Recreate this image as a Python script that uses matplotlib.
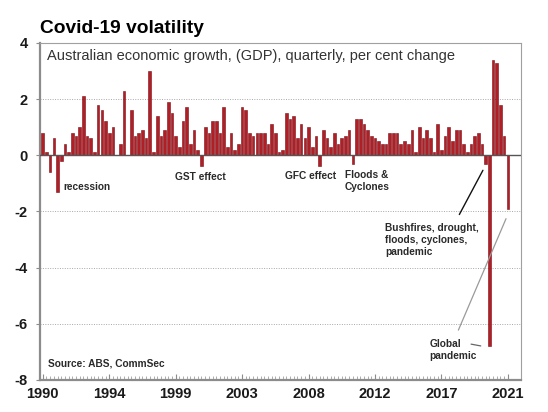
import matplotlib
matplotlib.use("Agg")
import matplotlib.pyplot as plt
import numpy as np

plt.rcParams["font.family"] = ["Liberation Sans", "DejaVu Sans"]
plt.rcParams["axes.unicode_minus"] = False

# Quarterly GDP growth, per cent, 1990 Q1 .. 2021 Q3
growth = [
    0.8, 0.1, -0.6, 0.6, -1.3, -0.2, 0.4, 0.1, 0.8, 0.7,
    1.0, 2.1, 0.7, 0.6, 0.1, 1.8, 1.6, 1.2, 0.8, 1.0,
    0.0, 0.4, 2.3, 0.0, 1.6, 0.7, 0.8, 0.9, 0.6, 3.0,
    0.1, 1.4, 0.7, 0.9, 1.9, 1.5, 0.7, 0.3, 1.2, 1.7,
    0.4, 0.9, 0.2, -0.4, 1.0, 0.8, 1.2, 1.2, 0.8, 1.7,
    0.3, 0.8, 0.2, 0.4, 1.7, 1.6, 0.8, 0.7, 0.8, 0.8,
    0.8, 0.4, 1.1, 0.8, 0.1, 0.2, 1.5, 1.3, 1.4, 0.6,
    1.1, 0.6, 1.0, 0.3, 0.7, -0.4, 0.9, 0.6, 0.3, 0.8,
    0.4, 0.6, 0.7, 0.9, -0.3, 1.3, 1.3, 1.1, 0.9, 0.7,
    0.6, 0.5, 0.4, 0.4, 0.8, 0.8, 0.8, 0.4, 0.5, 0.4,
    0.9, 0.1, 1.0, 0.6, 0.9, 0.6, 0.1, 1.1, 0.2, 0.7,
    1.0, 0.5, 0.9, 0.9, 0.4, 0.1, 0.4, 0.7, 0.8, 0.4,
    -0.3, -6.8, 3.4, 3.3, 1.8, 0.7, -1.9,
]
year_labels = ["1990", "1994", "1999", "2003", "2008", "2012", "2017", "2021"]
label_step = 18  # quarters between year labels

quarters = np.arange(len(growth))

fig = plt.figure(figsize=(5.48, 4.12), dpi=100)
ax = fig.add_axes([0.073, 0.078, 0.878, 0.818])

ax.bar(quarters, growth, width=0.72, color="#b01e26", edgecolor="#7a0c12",
       linewidth=0.4, zorder=3)

ax.set_xlim(-0.75, 129.6)
ax.set_ylim(-8, 4)

# axes frame and grid
for side in ["top", "right"]:
    ax.spines[side].set_color("#a0a0a0")
    ax.spines[side].set_linewidth(0.8)
for side in ["left", "bottom"]:
    ax.spines[side].set_color("#8c8c8c")
    ax.spines[side].set_linewidth(1.6)
ax.axhline(0, color="#555555", linewidth=1.0, zorder=4)
ax.set_yticks(np.arange(-8, 5, 2))
ax.yaxis.grid(True, linestyle=(0, (1, 1.5)), color="#a8a8a8", linewidth=0.7)
ax.set_axisbelow(True)

ax.set_xticks(quarters[::label_step])
ax.set_xticklabels(year_labels)
ax.set_xticks(quarters, minor=True)
ax.tick_params(axis="x", which="both", direction="in", color="#8c8c8c",
               pad=5, labelsize=10.5)
ax.tick_params(axis="x", which="major", length=4, width=0.8)
ax.tick_params(axis="x", which="minor", length=3, width=0.5)
ax.tick_params(axis="y", length=3, color="#8c8c8c", pad=6, labelsize=10.5)
for lab in ax.get_xticklabels() + ax.get_yticklabels():
    lab.set_fontweight("bold")
    lab.set_color("#1a1a1a")

# titles
fig.text(0.073, 0.92, "Covid-19 volatility", fontsize=13.8, fontweight="bold",
         va="baseline", ha="left")
ax.text(0.014, 0.961, "Australian economic growth, (GDP), quarterly, per cent change",
        transform=ax.transAxes, fontsize=10.5, color="#333333", va="center")

# annotations
note = dict(fontsize=7.3, fontweight="bold", color="#2a2a2a")
ax.text(5.5, -1.14, "recession", va="center", **note)
ax.text(35.8, -0.79, "GST effect", va="center", **note)
ax.text(65.7, -0.75, "GFC effect", va="center", **note)
ax.text(81.9, -0.93, "Floods &\nCyclones", va="center", linespacing=1.25, **note)
ax.text(92.8, -3.02, "Bushfires, drought,\nfloods, cyclones,\npandemic",
        va="center", linespacing=1.25, **note)
ax.text(104.7, -6.93, "Global\npandemic", va="center", linespacing=1.25, **note)
ax.text(1.4, -7.43, "Source: ABS, CommSec", va="center", **note)

ax.annotate("", xy=(119.6, -0.45), xytext=(112.5, -2.2),
            arrowprops=dict(arrowstyle="-", color="#111111", lw=1.0))
ax.annotate("", xy=(125.8, -2.17), xytext=(112.3, -6.32),
            arrowprops=dict(arrowstyle="-", color="#9a9a9a", lw=0.9))
ax.annotate("", xy=(119.4, -6.81), xytext=(115.3, -6.71),
            arrowprops=dict(arrowstyle="-", color="#666666", lw=0.9))

fig.savefig("out.png", dpi=100)
